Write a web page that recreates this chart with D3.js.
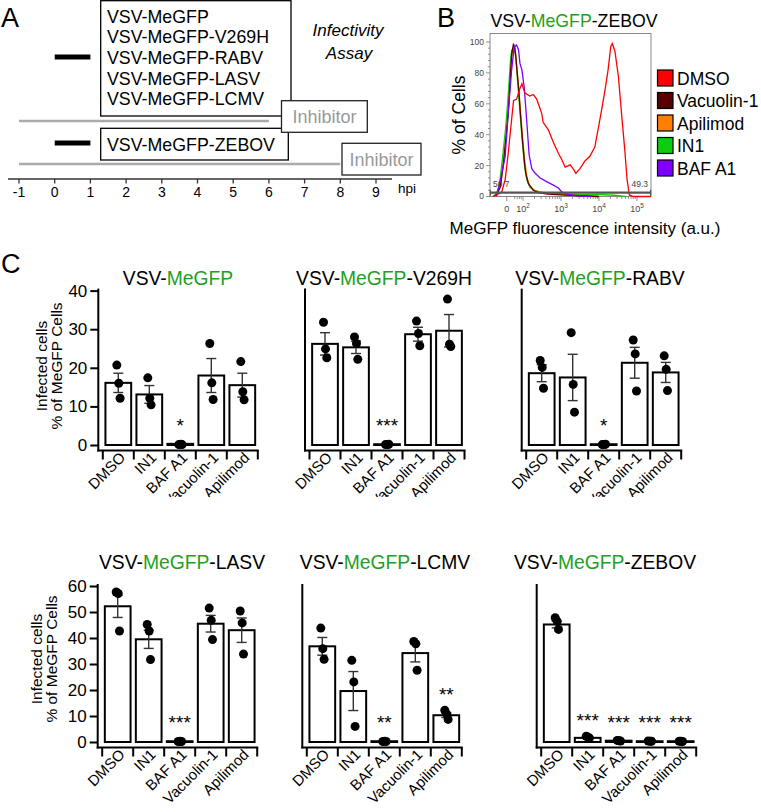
<!DOCTYPE html>
<html>
<head>
<meta charset="utf-8">
<script src="https://cdn.jsdelivr.net/npm/d3@7"></script>
<style>
  body { margin: 0; background: #fff; }
  svg { display: block; font-family: "Liberation Sans", Arial, sans-serif; }
</style>
</head>
<body>
<svg width="761" height="812"></svg>
<script>
// ---- panel A values
const hourTicks = [-1, 0, 1, 2, 3, 4, 5, 6, 7, 8, 9];
const infectionHours = [0, 1];
const inhibitorHours = [[-1, 6], [-1, 8]];
const virusesShort = ["VSV-MeGFP", "VSV-MeGFP-V269H", "VSV-MeGFP-RABV", "VSV-MeGFP-LASV", "VSV-MeGFP-LCMV"];
const virusesLong = ["VSV-MeGFP-ZEBOV"];

// ---- panel B values: [display decade, % of max]
const histDMSO = [[1.22,0],[1.31,1],[1.44,3],[1.53,11],[1.61,28],[1.70,50],[1.75,62],[1.83,63],[1.92,70],[1.97,73],[2.05,67],[2.18,65],[2.27,66],[2.36,63],[2.49,54],[2.53,48],[2.67,43],[2.80,35],[2.93,28],[3.02,24],[3.11,19],[3.24,20.5],[3.32,18],[3.39,15],[3.50,18],[3.63,23],[3.76,26],[3.89,32],[3.98,44],[4.07,56],[4.16,69],[4.24,82],[4.31,97],[4.35,99],[4.42,94],[4.51,78],[4.60,52],[4.68,30],[4.74,11],[4.80,1],[4.90,0],[5.37,0]];
const histVacuolin = [[1.22,0],[1.31,1.5],[1.40,6],[1.48,21],[1.55,38],[1.61,54],[1.66,75],[1.70,92],[1.75,99],[1.80,93],[1.84,82],[1.89,68],[1.93,54],[1.98,38],[2.03,24],[2.07,15],[2.14,8.5],[2.27,4],[2.40,2.5],[2.65,1.5],[3.0,1],[3.5,0.5],[4.0,0]];
const histApilimod = [[1.24,0],[1.32,2],[1.41,7],[1.49,22],[1.56,40],[1.62,58],[1.67,78],[1.71,92],[1.76,97],[1.81,90],[1.85,80],[1.90,66],[1.95,50],[2.0,35],[2.05,22],[2.10,13],[2.17,7],[2.3,4],[2.45,3],[2.7,2],[3.1,1],[3.6,0.5],[4.0,0]];
const histIN1 = [[1.22,0],[1.30,2],[1.38,8],[1.46,25],[1.54,44],[1.60,62],[1.66,85],[1.70,95],[1.74,92],[1.79,97],[1.84,80],[1.89,64],[1.94,48],[1.99,33],[2.04,20],[2.10,11],[2.18,6],[2.30,4],[2.50,2.5],[2.8,2],[3.2,1.5],[3.6,1.2],[4.0,1.3],[4.4,0.8],[4.7,0]];
const histBAF = [[1.30,0],[1.40,10],[1.53,26],[1.61,54],[1.70,82],[1.77,97],[1.83,98],[1.88,95],[1.92,86],[1.97,82],[2.03,71],[2.10,48],[2.16,27],[2.23,18],[2.32,15],[2.45,12],[2.62,9.6],[2.80,7.4],[2.93,5.5],[3.02,3],[3.15,1.5],[3.4,0.5],[3.8,0]];
const legendNames = ["DMSO", "Vacuolin-1", "Apilimod", "IN1", "BAF A1"];
const legendColors = ["#ff0000", "#560000", "#ff8000", "#10cc10", "#8000ff"];
const gatePercents = ["50.7", "49.3"];
const histYTicks = [0, 20, 40, 60, 80, 100];
const histXTicks = [1.57, 2, 3, 4, 5];
const histXLabels = ["0", "2", "3", "4", "5"];

// ---- panel C values
const categories = ["DMSO", "IN1", "BAF A1", "Vacuolin-1", "Apilimod"];
const virusSuffix = ["", "-V269H", "-RABV", "-LASV", "-LCMV", "-ZEBOV"];
const means = [
  [16.1, 13.1, 0.3, 18.0, 15.5],
  [26.2, 25.3, 0.2, 28.7, 29.6],
  [18.6, 17.5, 0.2, 21.3, 18.8],
  [52.2, 39.5, 0.3, 45.5, 43.0],
  [36.8, 19.6, 0.3, 34.2, 10.3],
  [45.2, 1.6, 0.5, 0.3, 0.3]
];
const sems = [
  [2.5, 2.3, 0.1, 4.4, 3.1],
  [2.9, 1.6, 0.1, 1.8, 4.2],
  [2.2, 6.0, 0.1, 4.0, 2.6],
  [4.3, 3.5, 0.1, 3.2, 4.7],
  [3.4, 7.5, 0.1, 3.4, 0.9],
  [1.3, 0.3, 0.1, 0.1, 0.1]
];
const replicates = [
  [[20.7, 16.0, 12.1], [17.4, 12.1, 10.4], [0.1, 0.2, 0.1], [26.3, 16.1, 11.8], [21.6, 13.8, 11.7]],
  [[31.8, 24.9, 22.6], [28.0, 26.3, 22.2], [0.1, 0.1, 0.2], [32.1, 28.9, 25.7], [37.8, 26.1, 25.5]],
  [[21.9, 20.1, 14.7], [29.1, 15.7, 8.5], [0.1, 0.1, 0.2], [27.2, 23.6, 14.0], [23.1, 19.6, 14.1]],
  [[57.7, 57.1, 42.7], [45.2, 42.7, 31.7], [0.2, 0.3, 0.2], [51.5, 46.8, 39.4], [50.4, 45.8, 33.8]],
  [[43.8, 35.9, 31.8], [31.4, 23.1, 6.0], [0.2, 0.3, 0.2], [38.7, 37.8, 27.6], [12.2, 10.7, 8.7]],
  [[47.8, 46.4, 43.3], [2.2, 1.8, 1.5], [0.6, 0.5, 0.4], [0.4, 0.3, 0.3], [0.3, 0.3, 0.2]]
];
const stars = [
  ["", "", "*", "", ""],
  ["", "", "***", "", ""],
  ["", "", "*", "", ""],
  ["", "", "***", "", ""],
  ["", "", "**", "", "**"],
  ["", "***", "***", "***", "***"]
];
const yTicksTop = [0, 10, 20, 30, 40];
const yTicksBottom = [0, 10, 20, 30, 40, 50, 60];

const svg = d3.select("svg");
const green = "#22a022";

// panel letters
svg.append("text").attr("x", 1).attr("y", 27).attr("font-size", 27).text("A");
svg.append("text").attr("x", 437).attr("y", 27).attr("font-size", 27).text("B");
svg.append("text").attr("x", 1).attr("y", 273).attr("font-size", 27).text("C");

// ================= panel A =================
const tA = d3.scaleLinear().domain([-1, 9]).range([19, 376]);
const pA = svg.append("g");

// virus boxes
pA.append("rect").attr("x", 100.7).attr("y", 0.7).attr("width", 190.3).attr("height", 115.3)
  .attr("fill", "#fff").attr("stroke", "#000").attr("stroke-width", 1.3);
pA.selectAll(".v1").data(virusesShort).enter().append("text")
  .attr("x", 107).attr("y", (d, i) => 22.7 + i * 20.6)
  .attr("font-size", 17.8).text(d => d);

pA.append("rect").attr("x", 100.7).attr("y", 128.3).attr("width", 187.6).attr("height", 31.7)
  .attr("fill", "#fff").attr("stroke", "#000").attr("stroke-width", 1.3);
pA.selectAll(".v2").data(virusesLong).enter().append("text")
  .attr("x", 107).attr("y", 150.5).attr("font-size", 17.8).text(d => d);

// infection pulse
[57, 143].forEach(y => {
  pA.append("line").attr("x1", tA(infectionHours[0])).attr("x2", tA(infectionHours[1]))
    .attr("y1", y).attr("y2", y).attr("stroke", "#000").attr("stroke-width", 5);
});

// inhibitor lines
const inhY = [121, 164];
inhibitorHours.forEach((h, i) => {
  pA.append("line").attr("x1", tA(h[0])).attr("x2", tA(h[1]))
    .attr("y1", inhY[i]).attr("y2", inhY[i]).attr("stroke", "#aaa").attr("stroke-width", 2.5);
});

// inhibitor boxes
const inhBoxes = [[281.5, 100.7, 85.8, 31.6], [342, 143.3, 79, 31.7]];
inhBoxes.forEach(b => {
  pA.append("rect").attr("x", b[0]).attr("y", b[1]).attr("width", b[2]).attr("height", b[3])
    .attr("fill", "#fff").attr("stroke", "#222").attr("stroke-width", 1.3);
  pA.append("text").attr("x", b[0] + b[2] / 2).attr("y", b[1] + 22.5)
    .attr("text-anchor", "middle").attr("font-size", 18).attr("fill", "#999").text("Inhibitor");
});

// infectivity assay
pA.append("text").attr("x", 348).attr("y", 36).attr("text-anchor", "middle")
  .attr("font-size", 17).attr("font-style", "italic").text("Infectivity");
pA.append("text").attr("x", 349).attr("y", 59).attr("text-anchor", "middle")
  .attr("font-size", 17).attr("font-style", "italic").text("Assay");

// time axis
pA.append("line").attr("x1", 8).attr("x2", 392).attr("y1", 179).attr("y2", 179)
  .attr("stroke", "#333").attr("stroke-width", 1.6);
pA.selectAll(".ht").data(hourTicks).enter().append("line")
  .attr("x1", d => tA(d)).attr("x2", d => tA(d)).attr("y1", 179).attr("y2", 183.5)
  .attr("stroke", "#333").attr("stroke-width", 1.3);
pA.selectAll(".hl").data(hourTicks).enter().append("text")
  .attr("x", d => tA(d)).attr("y", 196.5).attr("text-anchor", "middle")
  .attr("font-size", 14).text(d => d);
pA.append("text").attr("x", 398).attr("y", 193).attr("font-size", 13.5).text("hpi");

// ================= panel B =================
const xB = d3.scaleLinear().domain([1.13, 5.37]).range([490, 651]);
const yB = d3.scaleLinear().domain([0, 100]).range([196.5, 42]);
const pB = svg.append("g");

const title = (g, x, y, size, suffix) => {
  const t = g.append("text").attr("x", x).attr("y", y).attr("text-anchor", "middle").attr("font-size", size);
  t.append("tspan").text("VSV-");
  t.append("tspan").attr("fill", green).text("MeGFP");
  t.append("tspan").text(suffix);
};
title(pB, 574, 26.5, 17.7, "-ZEBOV");

pB.append("rect").attr("x", 490).attr("y", 33.5).attr("width", 161).attr("height", 163)
  .attr("fill", "none").attr("stroke", "#888").attr("stroke-width", 1);

// y ticks
pB.selectAll(".ym").data(d3.range(0, 101, 4)).enter().append("line")
  .attr("x1", 490).attr("x2", d => histYTicks.includes(d) ? 486 : 488)
  .attr("y1", d => yB(d)).attr("y2", d => yB(d)).attr("stroke", "#777").attr("stroke-width", 0.8);
pB.selectAll(".yl").data(histYTicks).enter().append("text")
  .attr("x", 484).attr("y", d => yB(d)).attr("dy", "0.35em").attr("text-anchor", "end")
  .attr("font-size", 8.5).attr("fill", "#444").text(d => d);

// x ticks
const minorX = [];
[1, 2, 3, 4].forEach(dec => d3.range(2, 10).forEach(k => minorX.push(dec + Math.log10(k))));
pB.selectAll(".xm").data(minorX.filter(v => v > 1.75 && v < 5.37)).enter().append("line")
  .attr("x1", d => xB(d)).attr("x2", d => xB(d)).attr("y1", 196.5).attr("y2", 199)
  .attr("stroke", "#777").attr("stroke-width", 0.8);
pB.selectAll(".xM").data(histXTicks).enter().append("line")
  .attr("x1", d => xB(d)).attr("x2", d => xB(d)).attr("y1", 196.5).attr("y2", 201)
  .attr("stroke", "#777").attr("stroke-width", 0.8);
const xl = pB.selectAll(".xl").data(histXTicks).enter().append("text")
  .attr("x", d => xB(d)).attr("y", 211.5).attr("text-anchor", "middle")
  .attr("font-size", 9).attr("fill", "#444");
xl.each(function(d, i) {
  const t = d3.select(this);
  if (i === 0) { t.text(histXLabels[i]); return; }
  t.append("tspan").text("10");
  t.append("tspan").attr("dy", -4).attr("font-size", 6.5).text(histXLabels[i]);
});

// curves
const histLine = d3.line().x(d => xB(d[0])).y(d => yB(d[1]));
const curves = [[histIN1, 3], [histApilimod, 2], [histVacuolin, 1], [histBAF, 4], [histDMSO, 0]];
curves.forEach(c => {
  pB.append("path").attr("d", histLine(c[0])).attr("fill", "none")
    .attr("stroke", legendColors[c[1]]).attr("stroke-width", 1.3);
});

// gate
const gy = yB(2.5);
pB.append("line").attr("x1", xB(1.13)).attr("x2", xB(5.37)).attr("y1", gy).attr("y2", gy)
  .attr("stroke", "#555").attr("stroke-width", 2.4);
[1.14, 5.36].forEach(v => pB.append("line").attr("x1", xB(v)).attr("x2", xB(v))
  .attr("y1", gy - 3).attr("y2", gy + 3).attr("stroke", "#555").attr("stroke-width", 1.2));
pB.append("text").attr("x", 493).attr("y", 187).attr("font-size", 8.5).attr("fill", "#444").text(gatePercents[0]);
pB.append("text").attr("x", 648).attr("y", 187).attr("text-anchor", "end").attr("font-size", 8.5).attr("fill", "#444").text(gatePercents[1]);

// axis titles
pB.append("text").attr("transform", "translate(465,115) rotate(-90)").attr("text-anchor", "middle")
  .attr("font-size", 17.5).text("% of Cells");
pB.append("text").attr("x", 585).attr("y", 234).attr("text-anchor", "middle")
  .attr("font-size", 17).text("MeGFP fluorescence intensity (a.u.)");

// legend
const leg = pB.selectAll(".leg").data(legendNames).enter().append("g")
  .attr("transform", (d, i) => `translate(657.5,${78 + i * 22.5})`);
leg.append("rect").attr("x", 0).attr("y", -8).attr("width", 15.5).attr("height", 16)
  .attr("fill", (d, i) => legendColors[i]).attr("stroke", "#000").attr("stroke-width", 1.2);
leg.append("text").attr("x", 19.5).attr("y", 6.5).attr("font-size", 17.5).text(d => d);

// ================= panel C =================
const rows = [
  { y0: 445, max: 40, ticks: yTicksTop, titleY: 285, labX: [46.5, 61.5], labY: 366 },
  { y0: 742, max: 60, ticks: yTicksBottom, titleY: 569, labX: [41.5, 57], labY: 659 }
];
rows[0].y1 = 290.6;
rows[1].y1 = 586;
const charts = [
  { axisX: 98.3, row: 0, titleX: 178, yLabels: true },
  { axisX: 305, row: 0, titleX: 384, yLabels: false },
  { axisX: 521.7, row: 0, titleX: 600, yLabels: false },
  { axisX: 97.7, row: 1, titleX: 182, yLabels: true },
  { axisX: 302.3, row: 1, titleX: 385, yLabels: false },
  { axisX: 536.7, row: 1, titleX: 605, yLabels: false }
];
const step = 31;
const jitter = [-1.5, 0.5, 1.8];

svg.append("clipPath").attr("id", "topClip").append("rect")
  .attr("x", 0).attr("y", 0).attr("width", 761).attr("height", 497);

charts.forEach((c, ci) => {
  const r = rows[c.row];
  const g = svg.append("g");
  const y = d3.scaleLinear().domain([0, r.max]).range([r.y0, r.y1]);
  const x0 = c.axisX + 4.5;
  const x = d3.scaleBand().domain(categories).range([x0, x0 + 5 * step])
    .paddingInner(0.17).paddingOuter(0.085);
  const xAxisY = r.y0 + 5.5;
  const bw = x.bandwidth();

  title(g, c.titleX, r.titleY, 19.3, virusSuffix[ci]);

  // y axis
  g.append("line").attr("x1", c.axisX).attr("x2", c.axisX).attr("y1", r.y1 - 2).attr("y2", xAxisY + 1)
    .attr("stroke", "#000").attr("stroke-width", 2);
  if (c.yLabels) {
    const ax = g.append("g").attr("transform", `translate(${c.axisX},0)`)
      .call(d3.axisLeft(y).tickValues(r.ticks).tickSize(8).tickPadding(3));
    ax.select(".domain").remove();
    ax.selectAll("line").attr("stroke-width", 2);
    ax.selectAll("text").attr("font-size", 17).attr("font-family", "Liberation Sans, Arial, sans-serif").attr("fill", "#000");

    g.append("text").attr("transform", `translate(${r.labX[0]},${r.labY}) rotate(-90)`)
      .attr("text-anchor", "middle").attr("font-size", 15.5).text("Infected cells");
    g.append("text").attr("transform", `translate(${r.labX[1]},${r.labY}) rotate(-90)`)
      .attr("text-anchor", "middle").attr("font-size", 15.5).text("% of MeGFP Cells");
  }

  // x axis
  g.append("line").attr("x1", c.axisX - 1).attr("x2", x0 + 5 * step + 1).attr("y1", xAxisY).attr("y2", xAxisY)
    .attr("stroke", "#000").attr("stroke-width", 2);
  g.selectAll(".xt").data(d3.range(6)).enter().append("line")
    .attr("x1", i => x0 + i * step).attr("x2", i => x0 + i * step)
    .attr("y1", xAxisY).attr("y2", xAxisY + 9).attr("stroke", "#000").attr("stroke-width", 2);
  const lab = g.append("g");
  if (c.row === 0) lab.attr("clip-path", "url(#topClip)");
  lab.selectAll(".xl").data(categories).enter().append("text")
    .attr("transform", d => `translate(${x(d) + bw / 2 + 8},${xAxisY + 8}) rotate(-45)`)
    .attr("text-anchor", "end").attr("font-size", 15).text(d => d);

  // bars
  g.selectAll(".bar").data(categories).enter().append("rect")
    .attr("x", d => x(d)).attr("width", bw)
    .attr("y", (d, i) => y(means[ci][i]))
    .attr("height", (d, i) => Math.max(0.5, y(0) - y(means[ci][i])))
    .attr("fill", "#fff").attr("stroke", "#000").attr("stroke-width", 2);

  // error bars
  categories.forEach((d, i) => {
    const cx = x(d) + bw / 2;
    const m = means[ci][i], s = sems[ci][i];
    const eg = g.append("g").attr("stroke", "#333").attr("stroke-width", 1.4);
    eg.append("line").attr("x1", cx).attr("x2", cx).attr("y1", y(m - s)).attr("y2", y(m + s));
    eg.append("line").attr("x1", cx - 5).attr("x2", cx + 5).attr("y1", y(m + s)).attr("y2", y(m + s));
    eg.append("line").attr("x1", cx - 5).attr("x2", cx + 5).attr("y1", y(m - s)).attr("y2", y(m - s));
  });

  // replicate dots
  categories.forEach((d, i) => {
    const cx = x(d) + bw / 2;
    g.selectAll(null).data(replicates[ci][i]).enter().append("circle")
      .attr("cx", (v, k) => cx + jitter[k]).attr("cy", v => y(v)).attr("r", 4.5).attr("fill", "#000");
  });

  // significance
  categories.forEach((d, i) => {
    if (!stars[ci][i]) return;
    const top = Math.max(means[ci][i] + sems[ci][i], d3.max(replicates[ci][i]));
    const cy = Math.min(r.y0 - 24, y(top) - 20);
    g.append("text").attr("x", x(d) + bw / 2).attr("y", cy + 11).attr("text-anchor", "middle")
      .attr("font-size", 19).text(stars[ci][i]);
  });
});
</script>
</body>
</html>
